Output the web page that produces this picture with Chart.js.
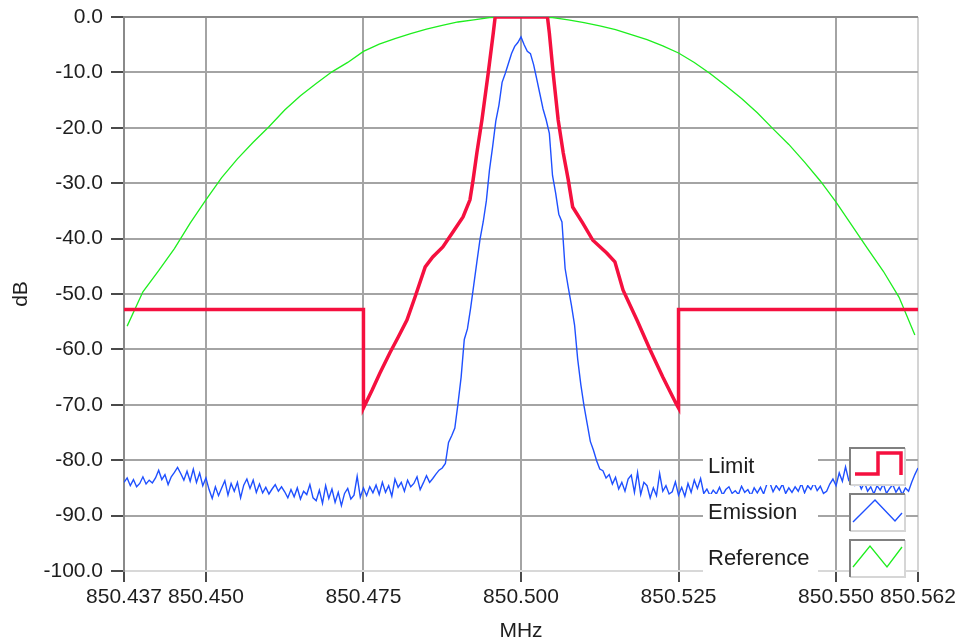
<!DOCTYPE html>
<html>
<head>
<meta charset="utf-8">
<script src="https://cdn.jsdelivr.net/npm/chart.js@4.4.1/dist/chart.umd.min.js"></script>
<style>
  html, body { margin: 0; padding: 0; background: #fff; }
  #wrap { width: 956px; height: 644px; }
</style>
</head>
<body>
<div id="wrap"><canvas id="emissionChart" width="956" height="644"></canvas></div>
<script>
// axis ticks
const xTickValues = [850.437, 850.45, 850.475, 850.5, 850.525, 850.55, 850.563];
const xTickLabels = ['850.437', '850.450', '850.475', '850.500', '850.525', '850.550', '850.562'];

// Limit mask (MHz / dB)
const limitFreq = [
  850.437, 850.475, 850.475, 850.4764, 850.4776, 850.4792, 850.4805, 850.4819, 850.4832, 850.4848,
  850.486, 850.4876, 850.4892, 850.4908, 850.4919, 850.4924, 850.493, 850.4938, 850.4948, 850.4956,
  850.4959, 850.5042, 850.5045, 850.5051, 850.5059, 850.5067, 850.5075, 850.5082, 850.5098, 850.5114,
  850.5136, 850.5149, 850.5162, 850.5184, 850.5205, 850.5225, 850.5247, 850.525, 850.525, 850.563
];
const limitDb = [
  -52.8, -52.8, -70.6, -67.3, -64.3, -60.6, -57.8, -54.7, -50.5, -45.1,
  -43.3, -41.5, -38.8, -36.1, -33.0, -29.4, -24.5, -18.6, -10.1, -2.9,
  0.0, 0.0, -2.9, -10.1, -18.6, -24.5, -29.4, -34.3, -37.2, -40.3,
  -42.6, -44.2, -49.3, -54.7, -60.1, -65.0, -70.0, -70.6, -52.8, -52.8
];

// Emission trace, one sample every 0.5 kHz from 850.437 MHz
const emissionStart = 850.437;
const emissionStep = 0.0005;
const emissionDb = [
  -84.0, -83.2, -84.6, -83.5, -84.8, -84.2, -83.0, -84.3, -83.6, -84.1,
  -83.2, -81.8, -83.5, -82.6, -84.4, -83.0, -82.2, -81.3, -82.4, -83.6,
  -82.0, -83.8, -81.6, -84.0, -82.3, -84.6, -83.2, -85.3, -86.9, -84.8,
  -86.4, -85.0, -83.7, -86.3, -84.2, -85.6, -84.0, -86.8, -84.5, -83.4,
  -85.1, -83.6, -85.8, -84.3, -85.9, -84.9, -86.1, -85.2, -84.4, -85.6,
  -84.8, -85.7, -86.8, -85.3, -86.6, -85.0, -87.0, -85.6, -86.2, -84.4,
  -86.8, -87.3, -85.4, -87.8, -84.6, -86.9, -85.2, -87.6, -85.8, -88.2,
  -86.0, -85.1, -87.0, -86.3, -82.9, -86.7, -85.0, -86.4, -84.8, -85.9,
  -84.5, -86.2, -84.0, -85.8, -84.6, -86.5, -83.4, -84.9, -84.0, -85.6,
  -83.6, -84.8, -84.2, -83.0, -85.3, -84.1, -82.8, -84.0, -83.3, -82.5,
  -81.8, -81.4, -80.6, -76.8, -75.6, -74.2, -69.8, -65.0, -58.2, -56.3,
  -52.6, -48.4, -44.2, -40.1, -37.0, -33.2, -27.6, -23.4, -18.8, -15.9,
  -11.8, -10.2, -8.4, -6.6, -5.3, -4.6, -3.6, -5.0, -6.2, -6.6,
  -8.6, -11.2, -13.9, -16.6, -18.6, -21.0, -28.6, -31.8, -35.6, -37.0,
  -45.4, -48.8, -52.0, -55.6, -61.8, -66.4, -70.2, -73.4, -76.6, -78.2,
  -80.1, -81.6, -81.9, -83.2, -82.6, -84.3, -83.1, -85.2, -84.0, -85.6,
  -83.4, -82.7, -85.8, -82.2, -86.2, -84.0, -84.6, -86.8, -85.0, -86.4,
  -82.4, -85.6, -84.6, -86.1, -85.7, -83.9, -86.3, -84.9, -86.5, -84.2,
  -85.8, -83.6, -85.1, -83.3, -86.0, -85.2, -86.4, -85.4, -86.1, -84.9,
  -86.3, -85.3, -84.8, -86.0, -85.5, -86.2, -84.7, -85.8, -85.3, -86.4,
  -85.0, -85.9, -84.9, -86.1, -84.4, -84.1, -85.7, -84.6, -85.4, -84.3,
  -86.0, -85.0, -85.8, -84.8, -85.6, -84.2, -85.9, -84.6, -85.3, -84.1,
  -85.5, -84.7, -86.0, -85.6, -84.3, -83.4, -84.6, -82.3, -83.8, -81.2,
  -83.6, -82.8, -84.5, -83.7, -85.2, -84.0, -85.6, -84.8, -86.1, -84.6,
  -85.4, -84.3, -86.0, -85.1, -84.4, -85.8, -84.9, -86.2, -85.0, -85.6,
  -84.0, -82.6, -81.4
];

// Reference curve, one sample every 2.5 kHz from 850.4375 MHz
const referenceStart = 850.4375;
const referenceStep = 0.0025;
const referenceDb = [
  -55.8, -49.6, -45.8, -41.8, -37.2, -33.0, -29.0, -25.6, -22.6, -19.8,
  -16.8, -14.2, -12.0, -9.9, -8.2, -6.2, -4.9, -3.9, -3.0, -2.2,
  -1.5, -0.9, -0.5, -0.1, 0.0, 0.0, 0.0, -0.1, -0.5, -1.0,
  -1.6, -2.3, -3.2, -4.1, -5.2, -6.5, -8.2, -10.2, -12.4, -14.7,
  -17.3, -20.2, -23.0, -26.2, -29.6, -33.4, -37.6, -41.8, -45.9, -50.6,
  -57.4
];

const seriesNames = ['Limit', 'Emission', 'Reference'];
const seriesColors = ['#f5103f', '#1f50ff', '#1eee1e'];

const limitPoints = limitFreq.map((f, i) => ({ x: f, y: limitDb[i] }));
const emissionPoints = emissionDb.map((v, i) => ({ x: emissionStart + i * emissionStep, y: v }));
const referencePoints = referenceDb.map((v, i) => ({ x: referenceStart + i * referenceStep, y: v }));

// legend drawn inside the plot, LabVIEW style
const plotLegend = {
    id: 'plotLegend',
    afterDatasetsDraw(chart) {
        const ctx = chart.ctx;
        const labelLeft = 703, labelW = 115;
        const boxLeft = 850, boxW = 55, boxH = 37, rowStep = 46;
        ctx.save();
        chart.data.datasets.forEach((ds, i) => {
            const top = 448 + i * rowStep;
            ctx.fillStyle = '#fff';
            ctx.fillRect(labelLeft, top, labelW, boxH);
            ctx.fillRect(boxLeft, top, boxW, boxH);

            ctx.fillStyle = '#1e1e1e';
            ctx.font = '22px "Liberation Sans", Arial, sans-serif';
            ctx.textAlign = 'left';
            ctx.textBaseline = 'middle';
            ctx.fillText(ds.label, labelLeft + 5, top + boxH / 2);

            // sunken frame
            ctx.lineWidth = 2;
            ctx.strokeStyle = '#d6d6d6';
            ctx.beginPath();
            ctx.moveTo(boxLeft + boxW, top);
            ctx.lineTo(boxLeft + boxW, top + boxH);
            ctx.lineTo(boxLeft, top + boxH);
            ctx.stroke();
            ctx.strokeStyle = '#808080';
            ctx.beginPath();
            ctx.moveTo(boxLeft, top + boxH);
            ctx.lineTo(boxLeft, top);
            ctx.lineTo(boxLeft + boxW, top);
            ctx.stroke();

            ctx.strokeStyle = ds.borderColor;
            ctx.lineWidth = ds.borderWidth;
            ctx.beginPath();
            if (i === 0) {
                ctx.moveTo(boxLeft + 5, top + 26);
                ctx.lineTo(boxLeft + 28, top + 26);
                ctx.lineTo(boxLeft + 28, top + 5);
                ctx.lineTo(boxLeft + 51, top + 5);
                ctx.lineTo(boxLeft + 51, top + 27);
            } else if (i === 1) {
                ctx.moveTo(boxLeft + 3, top + 28);
                ctx.lineTo(boxLeft + 25, top + 6);
                ctx.lineTo(boxLeft + 45, top + 27);
                ctx.lineTo(boxLeft + 52, top + 19);
            } else {
                ctx.moveTo(boxLeft + 3, top + 27);
                ctx.lineTo(boxLeft + 20, top + 6);
                ctx.lineTo(boxLeft + 37, top + 27);
                ctx.lineTo(boxLeft + 52, top + 7);
            }
            ctx.stroke();
        });
        ctx.restore();
    }
};

Chart.defaults.font.family = '"Liberation Sans", Arial, sans-serif';
Chart.defaults.font.size = 21;
Chart.defaults.color = '#1e1e1e';

const ctx = document.getElementById('emissionChart').getContext('2d');
window.emissionChart = new Chart(ctx, {
    type: 'line',
    data: {
        datasets: [
            {
                label: seriesNames[0],
                data: limitPoints,
                borderColor: seriesColors[0],
                borderWidth: 3.5,
                pointRadius: 0,
                tension: 0
            },
            {
                label: seriesNames[1],
                data: emissionPoints,
                borderColor: seriesColors[1],
                borderWidth: 1.4,
                pointRadius: 0,
                tension: 0
            },
            {
                label: seriesNames[2],
                data: referencePoints,
                borderColor: seriesColors[2],
                borderWidth: 1.3,
                pointRadius: 0,
                tension: 0
            }
        ]
    },
    options: {
        responsive: false,
        animation: false,
        layout: { padding: { top: 17, right: 38, bottom: 0, left: 0 } },
        plugins: {
            legend: { display: false },
            tooltip: { enabled: false }
        },
        scales: {
            x: {
                type: 'linear',
                min: 850.437,
                max: 850.563,
                afterBuildTicks: scale => {
                    scale.ticks = xTickValues.map(v => ({ value: v }));
                },
                afterFit: scale => {
                    scale.height = 73;
                    scale.paddingLeft = 0;
                    scale.paddingRight = 0;
                },
                ticks: {
                    autoSkip: false,
                    maxRotation: 0,
                    padding: 3,
                    callback: (value, index) => xTickLabels[index]
                },
                grid: {
                    color: c => {
                        if (c.index === 0) return '#8a8a8a';
                        if (c.index === xTickValues.length - 1) return '#d4d4d4';
                        return '#a4a4a4';
                    },
                    lineWidth: 2,
                    tickColor: '#4a4a4a',
                    tickWidth: 2,
                    tickLength: 11
                },
                border: { color: '#d8d8d8', width: 2 },
                title: {
                    display: true,
                    text: 'MHz',
                    padding: { top: 0, bottom: 0 }
                }
            },
            y: {
                min: -100,
                max: 0,
                afterFit: scale => {
                    scale.width = 124;
                    scale.paddingTop = 0;
                    scale.paddingBottom = 0;
                },
                ticks: {
                    stepSize: 10,
                    padding: 8,
                    callback: v => v.toFixed(1)
                },
                grid: {
                    color: c => {
                        if (c.tick && c.tick.value === 0) return '#8a8a8a';
                        if (c.tick && c.tick.value === -100) return '#d8d8d8';
                        return '#a4a4a4';
                    },
                    lineWidth: 2,
                    tickColor: '#4a4a4a',
                    tickWidth: 2,
                    tickLength: 13
                },
                border: { color: '#8a8a8a', width: 2 },
                title: {
                    display: true,
                    text: 'dB',
                    padding: { top: 9, bottom: 0 }
                }
            }
        }
    },
    plugins: [plotLegend]
});
</script>
</body>
</html>
